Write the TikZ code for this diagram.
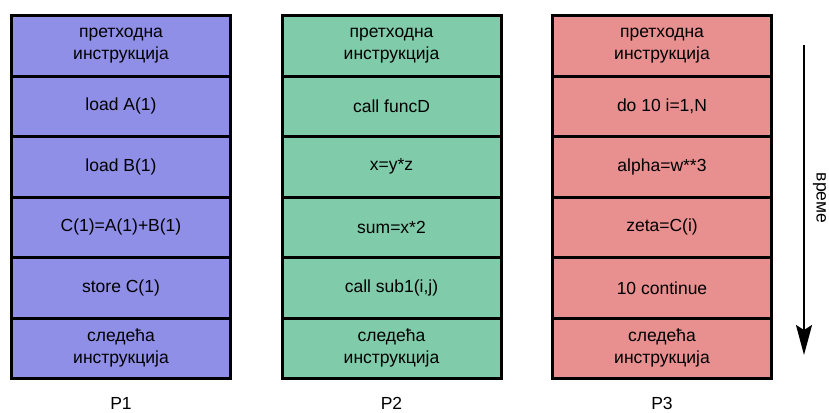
\documentclass[tikz,border=0pt]{standalone}
\usepackage{fontspec}
\setmainfont{Liberation Sans}
\usepackage{tikz}
\usetikzlibrary{arrows.meta, positioning}

\definecolor{procblue}{RGB}{143,143,232}
\definecolor{procgreen}{RGB}{128,204,170}
\definecolor{procred}{RGB}{232,143,143}

\begin{document}
\begin{tikzpicture}[
            x=1pt, y=-1pt,
            cell/.style={draw, line width=3pt, outer sep=0pt, inner sep=0pt, minimum width=219pt, minimum height=60.5pt, align=center, font=\fontsize{17.5}{22}\selectfont},
            cellA/.style={cell, fill=procblue},
            cellB/.style={cell, fill=procgreen},
            cellC/.style={cell, fill=procred},
            lbl/.style={inner sep=0pt, font=\fontsize{17.5}{22}\selectfont},
            timeline/.style={line width=2pt, -{Stealth[length=30pt, width=16pt, inset=5pt]}}
        ]
        \useasboundingbox (0,0) rectangle (829,412);

        % 1. X-coordinates of the three columns
        \def\Pone{121}
        \def\Ptwo{391.5}
        \def\Pthree{662}
        \def\ytop{45.75}

        % --- P1 ---
        \node[cellA] (a0) at (\Pone, \ytop) {претходна\\инструкција};
        \node[cellA, below=0pt of a0] (a1) {load A(1)};
        \node[cellA, below=0pt of a1] (a2) {load B(1)};
        \node[cellA, below=0pt of a2] (a3) {C(1)=A(1)+B(1)};
        \node[cellA, below=0pt of a3] (a4) {store C(1)};
        \node[cellA, below=0pt of a4] (a5) {следећа\\инструкција};

        % --- P2 ---
        \node[cellB] (b0) at (\Ptwo, \ytop) {претходна\\инструкција};
        \node[cellB, below=0pt of b0] (b1) {call funcD};
        \node[cellB, below=0pt of b1] (b2) {x=y*z};
        \node[cellB, below=0pt of b2] (b3) {sum=x*2};
        \node[cellB, below=0pt of b3] (b4) {call sub1(i,j)};
        \node[cellB, below=0pt of b4] (b5) {следећа\\инструкција};

        % --- P3 ---
        \node[cellC] (c0) at (\Pthree, \ytop) {претходна\\инструкција};
        \node[cellC, below=0pt of c0] (c1) {do 10 i=1,N};
        \node[cellC, below=0pt of c1] (c2) {alpha=w**3};
        \node[cellC, below=0pt of c2] (c3) {zeta=C(i)};
        \node[cellC, below=0pt of c3] (c4) {10 continue};
        \node[cellC, below=0pt of c4] (c5) {следећа\\инструкција};

        % Processor names
        \node[lbl] (p1) at (\Pone, 403.5) {P1};
        \node[lbl] (p2) at (\Ptwo, 403.5) {P2};
        \node[lbl] (p3) at (\Pthree, 403.5) {P3};

        % Time axis
        \coordinate (tstart) at (804, 45);
        \coordinate (tend) at (804, 355);
        \draw[timeline] (tstart) -- (tend);
        \node[lbl, rotate=-90] (vreme) at (819.5, 198) {време};

        \end{tikzpicture}
\end{document}
